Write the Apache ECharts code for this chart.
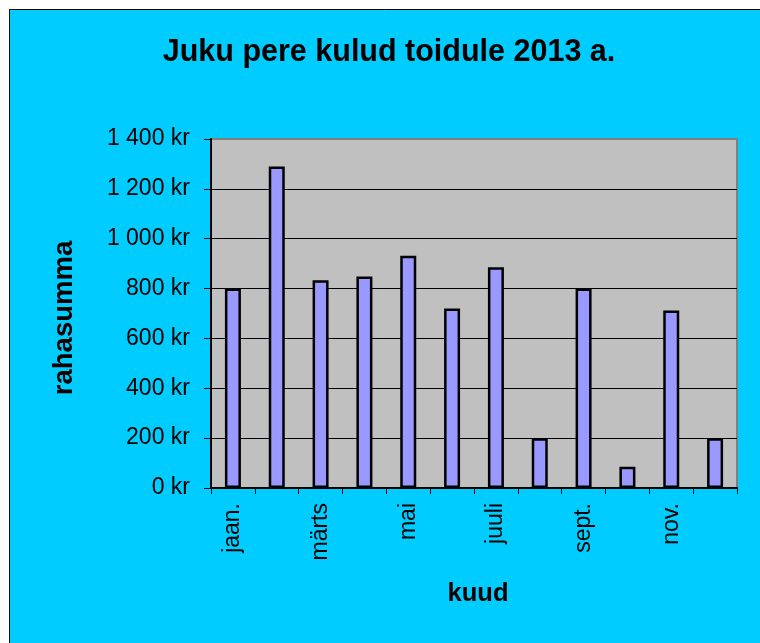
<!DOCTYPE html>
<html>
<head>
<meta charset="utf-8">
<script src="https://cdn.jsdelivr.net/npm/echarts@6/dist/echarts.min.js"></script>
<style>
html,body{margin:0;padding:0;background:#fff;}
#chart{width:760px;height:643px;}
</style>
</head>
<body>
<div id="chart"></div>
<script>
const months = ['jaan.','veebr.','märts','apr.','mai','juuni','juuli','aug.','sept.','okt.','nov.','dets.'];
const spending = [800, 1290, 833, 848, 932, 720, 886, 200, 800, 85, 712, 200];
const titleText = 'Juku pere kulud toidule 2013 a.';
const yName = 'rahasumma';
const xName = 'kuud';
const yMin = 0, yMax = 1400, yStep = 200;

const FONT = '"Liberation Sans", Arial, sans-serif';
function fmt(v){
  return String(v).replace(/\B(?=(\d{3})+(?!\d))/g, ' ') + ' kr';
}

const chart = echarts.init(document.getElementById('chart'), null, {renderer:'canvas'});
chart.setOption({
  backgroundColor: '#00CCFF',
  animation: false,
  textStyle: {fontFamily: FONT},
  grid: {
    left: 211, top: 139, right: 23, bottom: 155,
    show: true, backgroundColor: '#C0C0C0', borderColor: '#808080', borderWidth: 2
  },
  xAxis: {
    type: 'category',
    data: months,
    axisLine: {show: true, lineStyle: {color: '#000', width: 2}},
    axisTick: {show: true, length: 6, alignWithLabel: false, interval: 0, lineStyle: {color: '#000', width: 1}},
    axisLabel: {interval: 1, rotate: 90, margin: 15, color: '#000', fontSize: 23, fontFamily: FONT},
    splitLine: {show: false}
  },
  yAxis: {
    type: 'value',
    min: yMin, max: yMax, interval: yStep,
    axisLine: {show: true, lineStyle: {color: '#000', width: 2}},
    axisTick: {show: true, length: 7, lineStyle: {color: '#000', width: 1}},
    axisLabel: {formatter: fmt, margin: 21, color: '#000', fontSize: 23, fontFamily: FONT},
    splitLine: {show: true, showMaxLine: false, lineStyle: {color: '#000', width: 1}}
  },
  series: [{
    type: 'bar',
    data: spending,
    barWidth: 16,
    itemStyle: {color: '#9999FF', borderColor: '#000', borderWidth: 2.5}
  }],
  graphic: [
    {type: 'rect', shape: {x: 0, y: 0, width: 760, height: 9}, style: {fill: '#fff'}, z: 100},
    {type: 'rect', shape: {x: 0, y: 0, width: 9, height: 643}, style: {fill: '#fff'}, z: 100},
    {type: 'line', shape: {x1: 9, y1: 9.5, x2: 760, y2: 9.5}, style: {stroke: '#000', lineWidth: 1}, z: 101},
    {type: 'line', shape: {x1: 9.5, y1: 9, x2: 9.5, y2: 643}, style: {stroke: '#000', lineWidth: 1}, z: 101},
    {type: 'text', x: 389, y: 53, style: {text: titleText, fill: '#000', font: 'bold 30.5px ' + FONT, textAlign: 'center', textVerticalAlign: 'middle'}, z: 100},
    {type: 'text', x: 64, y: 318, rotation: Math.PI/2, style: {text: yName, fill: '#000', font: 'bold 27.5px ' + FONT, textAlign: 'center', textVerticalAlign: 'middle'}, z: 100},
    {type: 'text', x: 478, y: 594, style: {text: xName, fill: '#000', font: 'bold 25.5px ' + FONT, textAlign: 'center', textVerticalAlign: 'middle'}, z: 100}
  ]
});
</script>
</body>
</html>
